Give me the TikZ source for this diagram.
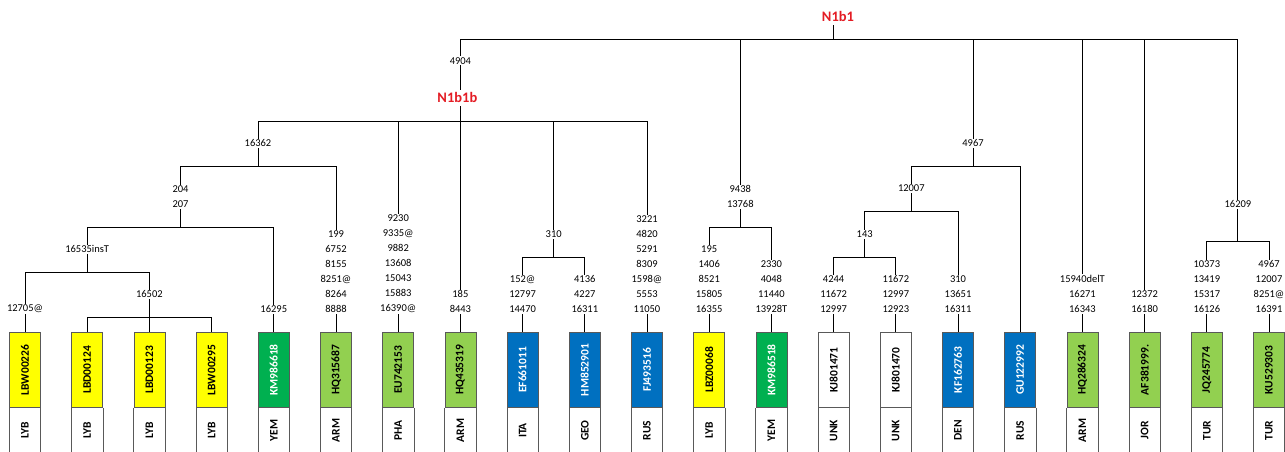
\documentclass[tikz,border=0pt]{standalone}
\usepackage{fontspec}
\setmainfont{Carlito}
\usepackage{graphicx}
\usetikzlibrary{positioning}
\definecolor{hapyellow}{RGB}{255,255,0}
\definecolor{hapdkgreen}{RGB}{0,176,80}
\definecolor{hapltgreen}{RGB}{146,208,80}
\definecolor{hapblue}{RGB}{0,112,192}
\definecolor{cladered}{RGB}{228,28,36}

\begin{document}
\begin{tikzpicture}[
  x=1pt, y=-1pt,
  every node/.style={font=\fontsize{10.5}{15}\selectfont},
  branch/.style={draw=black, line width=1pt},
  mut/.style={fill=white, align=center, inner sep=1pt},
  clade/.style={
    fill=white, text=cladered, inner sep=3pt,
    font=\fontsize{14.5}{16}\selectfont\bfseries
  },
  leaf/.style={
    draw=gray!70!black, line width=0.8pt, anchor=north,
    minimum width=31pt, minimum height=75pt, inner sep=0pt,
    font=\fontsize{11.5}{12}\selectfont\bfseries
  },
  ctry/.style={
    anchor=north, minimum width=31pt, minimum height=45pt, inner sep=0pt,
    font=\fontsize{11.5}{12}\selectfont\bfseries
  },
  boxline/.style={draw=gray!70!black, line width=0.8pt}
]
  \useasboundingbox (0,0) rectangle (1285,452);

  % Sequenze (foglie) e paesi
  \foreach \i/\nm/\acc/\ctry/\col/\tcol in {
    1/LBW00226/LBW00226/LYB/hapyellow/black,
    2/LBD00124/LBD00124/LYB/hapyellow/black,
    3/LBD00123/LBD00123/LYB/hapyellow/black,
    4/LBW00295/LBW00295/LYB/hapyellow/black,
    5/KM986618/KM986618/YEM/hapdkgreen/white,
    6/HQ315687/HQ315687/ARM/hapltgreen/black,
    7/EU742153/EU742153/PHA/hapltgreen/black,
    8/HQ435319/HQ435319/ARM/hapltgreen/black,
    9/EF661011/EF661011/ITA/hapblue/white,
    10/HM852901/HM852901/GEO/hapblue/white,
    11/FJ493516/FJ493516/RUS/hapblue/white,
    12/LBZ00068/LBZ00068/LYB/hapyellow/black,
    13/KM986518/KM986518/YEM/hapdkgreen/white,
    14/KJ801471/KJ801471/UNK/white/black,
    15/KJ801470/KJ801470/UNK/white/black,
    16/KF162763/KF162763/DEN/hapblue/white,
    17/GU122992/GU122992/RUS/hapblue/white,
    18/HQ286324/HQ286324/ARM/hapltgreen/black,
    19/AF381999/AF381999./JOR/hapltgreen/black,
    20/JQ245774/JQ245774/TUR/hapltgreen/black,
    21/KU529303/KU529303/TUR/hapltgreen/black}
  {
    \node[leaf, fill=\col, text=\tcol] (\nm) at ({25+62.2*(\i-1)},332) {\rotatebox{90}{\acc}};
    \node[ctry] (c\nm) at (\nm.south) {\rotatebox{90}{\ctry}};
    \draw[boxline] (c\nm.north west) -- (c\nm.south west)
                   (c\nm.north east) -- (c\nm.south east);
  }

  % Nodi interni (punti di biforcazione)
  \coordinate (n1b1)   at (833,40);
  \coordinate (n1b1b)  at (460.4,121);
  \coordinate (j16362) at (258,166);
  \coordinate (j204)   at (180.5,227);
  \coordinate (j16535) at (87.2,272);
  \coordinate (j16502) at (149.4,317);
  \coordinate (j310)   at (553.7,257);
  \coordinate (j9438)  at (740.3,227);
  \coordinate (j4967)  at (973,166);
  \coordinate (j12007) at (911.3,211);
  \coordinate (j143)   at (864.7,257);
  \coordinate (j16209) at (1237.9,241);

  % Rami
  \foreach \p/\c in {
    n1b1/n1b1b, n1b1/j9438, n1b1/j4967, n1b1/HQ286324, n1b1/AF381999, n1b1/j16209,
    n1b1b/j16362, n1b1b/EU742153, n1b1b/HQ435319, n1b1b/j310, n1b1b/FJ493516,
    j16362/j204, j16362/HQ315687,
    j204/j16535, j204/KM986618,
    j16535/LBW00226, j16535/j16502,
    j16502/LBD00124, j16502/LBD00123, j16502/LBW00295,
    j310/EF661011, j310/HM852901,
    j9438/LBZ00068, j9438/KM986518,
    j4967/j12007, j4967/GU122992,
    j12007/j143, j12007/KF162763,
    j143/KJ801471, j143/KJ801470,
    j16209/JQ245774, j16209/KU529303}
    \draw[branch] (\p) -| (\c);

  % Aplogruppi
  \node[clade, above=15pt of n1b1, xshift=5pt] (lN1b1) {N1b1};
  \draw[branch] (n1b1) -- (n1b1 |- lN1b1.south);
  \node[clade, above=15pt of n1b1b, xshift=-3pt] (lN1b1b) {N1b1b};
  \node[mut, above=24pt of n1b1b |- lN1b1b.north, anchor=south] (m4904) {4904};

  % Mutazioni sui rami interni
  \node[mut, above=18pt of j16362] (m16362) {16362};
  \node[mut, above=18pt of j204] (m204) {204\\207};
  \node[mut, above=18pt of j16535] (m16535) {16535insT};
  \node[mut, above=18pt of j16502] (m16502) {16502};
  \node[mut, above=18pt of j310] (m310) {310};
  \node[mut, above=18pt of j9438] (m9438) {9438\\13768};
  \node[mut, above=18pt of j4967] (m4967) {4967};
  \node[mut, above=18pt of j12007] (m12007) {12007};
  \node[mut, above=18pt of j143] (m143) {143};
  \node[mut, above=32pt of j16209] (m16209) {16209};

  % Mutazioni private
  \node[mut, above=18pt of LBW00226] (mLBW00226) {12705@};
  \node[mut, above=18pt of KM986618] (mKM986618) {16295};
  \node[mut, above=18pt of HQ315687] (mHQ315687) {199\\6752\\8155\\8251@\\8264\\8888};
  \node[mut, above=18pt of EU742153] (mEU742153) {9230\\9335@\\9882\\13608\\15043\\15883\\16390@};
  \node[mut, above=18pt of HQ435319] (mHQ435319) {185\\8443};
  \node[mut, above=18pt of EF661011] (mEF661011) {152@\\12797\\14470};
  \node[mut, above=18pt of HM852901] (mHM852901) {4136\\4227\\16311};
  \node[mut, above=18pt of FJ493516] (mFJ493516) {3221\\4820\\5291\\8309\\1598@\\5553\\11050};
  \node[mut, above=18pt of LBZ00068] (mLBZ00068) {195\\1406\\8521\\15805\\16355};
  \node[mut, above=18pt of KM986518] (mKM986518) {2330\\4048\\11440\\13928T};
  \node[mut, above=18pt of KJ801471] (mKJ801471) {4244\\11672\\12997};
  \node[mut, above=18pt of KJ801470] (mKJ801470) {11672\\12997\\12923};
  \node[mut, above=18pt of KF162763] (mKF162763) {310\\13651\\16311};
  \node[mut, above=18pt of HQ286324] (mHQ286324) {15940delT\\16271\\16343};
  \node[mut, above=18pt of AF381999] (mAF381999) {12372\\16180};
  \node[mut, above=18pt of JQ245774] (mJQ245774) {10373\\13419\\15317\\16126};
  \node[mut, above=18pt of KU529303] (mKU529303) {4967\\12007\\8251@\\16391};

\end{tikzpicture}
\end{document}
